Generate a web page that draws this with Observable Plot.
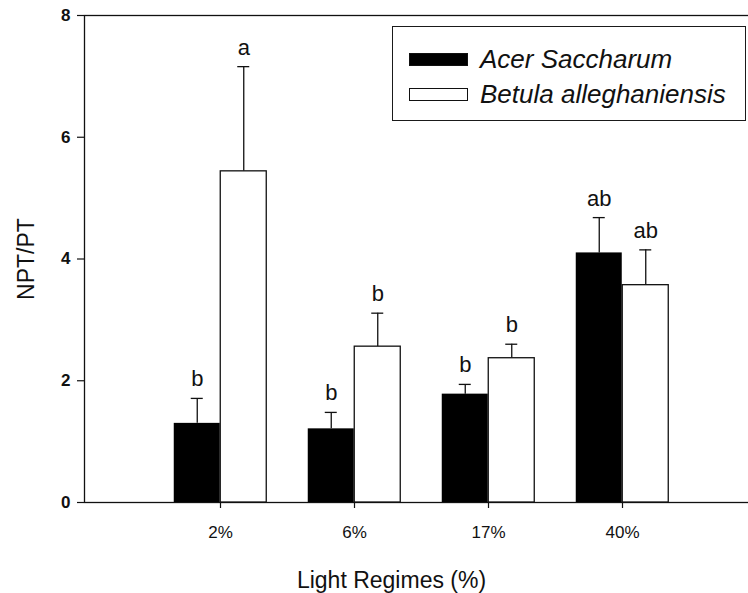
<!DOCTYPE html>
<html>
<head>
<meta charset="utf-8">
<script src="https://cdn.jsdelivr.net/npm/d3@7"></script>
<script src="https://cdn.jsdelivr.net/npm/@observablehq/plot@0.6"></script>
<style>
  html, body { margin: 0; padding: 0; background: #fff; overflow: hidden; }
  #wrap { position: relative; width: 748px; height: 593px; font-family: "Liberation Sans", Arial, sans-serif; }
  #legend { position: absolute; left: 392px; top: 26px; width: 354px; height: 95px; border: 1px solid #1a1a1a; box-sizing: border-box; background: #fff; }
  .row { position: absolute; left: 16px; display: flex; align-items: center; font-style: italic; font-size: 26px; color: #111; white-space: nowrap; }
  .sw { width: 59px; height: 13px; box-sizing: border-box; margin-right: 12px; }
</style>
</head>
<body>
<div id="wrap"></div>
<script>
const lightRegimes = ["2%", "6%", "17%", "40%"];
const seriesNames = ["Acer Saccharum", "Betula alleghaniensis"];
const acerMean = [1.30, 1.21, 1.78, 4.10];
const acerSE = [0.41, 0.27, 0.16, 0.58];
const acerLetters = ["b", "b", "b", "ab"];
const betulaMean = [5.44, 2.56, 2.37, 3.57];
const betulaSE = [1.72, 0.55, 0.23, 0.58];
const betulaLetters = ["a", "b", "b", "ab"];
const yTicks = [0, 2, 4, 6, 8];
const xTitle = "Light Regimes (%)";
const yTitle = "NPT/PT";

const acerRows = lightRegimes.map((l, i) => ({light: l, species: seriesNames[0], value: acerMean[i], top: acerMean[i] + acerSE[i], letter: acerLetters[i]}));
const betulaRows = lightRegimes.map((l, i) => ({light: l, species: seriesNames[1], value: betulaMean[i], top: betulaMean[i] + betulaSE[i], letter: betulaLetters[i]}));

const half = 23.25;
const ink = "#111";

const chart = Plot.plot({
  width: 748,
  height: 593,
  marginTop: 15,
  marginBottom: 91,
  marginLeft: 84,
  marginRight: 0,
  style: {fontFamily: "'Liberation Sans', Arial, sans-serif", background: "#fff", color: ink, overflow: "visible"},
  x: {domain: lightRegimes, paddingInner: 0.654, paddingOuter: 0.799, align: 0.5254, label: null},
  y: {domain: [0, 8], label: null},
  marks: [
    Plot.frame({stroke: ink, strokeWidth: 1.3, insetRight: -4}),
    Plot.axisY({ticks: yTicks, tickSize: 7, tickPadding: 7, fontSize: 17, fontWeight: "bold", label: null, stroke: ink, strokeWidth: 1.2}),
    Plot.axisX({tickSize: 6, tickPadding: 17, fontSize: 17, label: null, stroke: ink, strokeWidth: 1.2}),
    Plot.ruleX(acerRows, {x: "light", y1: "value", y2: "top", dx: -half, stroke: ink, strokeWidth: 1.3}),
    Plot.ruleX(betulaRows, {x: "light", y1: "value", y2: "top", dx: half, stroke: ink, strokeWidth: 1.3}),
    Plot.tickY(acerRows, {x: "light", y: "top", dx: -half, insetLeft: 17, insetRight: 17, stroke: ink, strokeWidth: 1.3}),
    Plot.tickY(betulaRows, {x: "light", y: "top", dx: half, insetLeft: 17, insetRight: 17, stroke: ink, strokeWidth: 1.3}),
    Plot.barY(acerRows, {x: "light", y: "value", dx: -half, fill: "#000"}),
    Plot.barY(betulaRows, {x: "light", y: "value", dx: half, fill: "#fff", stroke: ink, strokeWidth: 1.3}),
    Plot.text(acerRows, {x: "light", y: "top", text: "letter", dx: -half, dy: -19, fontSize: 22, lineAnchor: "middle", fill: ink}),
    Plot.text(betulaRows, {x: "light", y: "top", text: "letter", dx: half, dy: -19, fontSize: 22, lineAnchor: "middle", fill: ink}),
    Plot.text([yTitle], {frameAnchor: "left", rotate: -90, dx: -58, fontSize: 23, textAnchor: "middle", lineAnchor: "middle", fill: ink}),
    Plot.text([xTitle], {frameAnchor: "bottom", dx: -25, dy: 78, fontSize: 23, textAnchor: "middle", lineAnchor: "middle", fill: ink})
  ]
});

const wrap = document.getElementById("wrap");
wrap.appendChild(chart);

const legend = document.createElement("div");
legend.id = "legend";
const fills = ["#000", "#fff"];
const tops = [17, 52];
seriesNames.forEach((name, i) => {
  const row = document.createElement("div");
  row.className = "row";
  row.style.top = tops[i] + "px";
  const sw = document.createElement("div");
  sw.className = "sw";
  sw.style.background = fills[i];
  sw.style.border = "1px solid #111";
  const label = document.createElement("span");
  label.textContent = name;
  row.appendChild(sw);
  row.appendChild(label);
  legend.appendChild(row);
});
wrap.appendChild(legend);
</script>
</body>
</html>
